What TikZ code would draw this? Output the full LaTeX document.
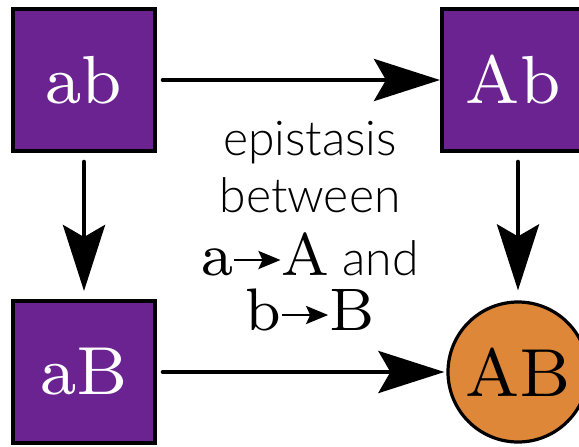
\documentclass[tikz,border=0pt]{standalone}
\usepackage{fontspec}
\newfontfamily\labelfont{Lato}[UprightFont=* Light]
\newfontfamily\genofont{lmroman8-regular.otf}
\usepackage{tikz}
\usetikzlibrary{arrows.meta}
\definecolor{genopurple}{RGB}{106,35,145}
\definecolor{genoorange}{RGB}{222,135,56}
\newcommand{\mutarrow}{\tikz[baseline=-7.5pt]\draw[line width=1.4pt,-{Stealth[length=11pt,width=9pt,inset=2pt]}] (0pt,0pt) -- (23pt,0pt);}

\begin{document}
\begin{tikzpicture}[
  x=0.5pt,y=-0.5pt,
  geno/.style={draw,line width=2pt,fill=genopurple,text=white,minimum size=71pt,inner sep=0pt,font=\genofont\fontsize{34}{40}\selectfont},
  fit/.style={draw,circle,line width=1.6pt,fill=genoorange,minimum size=70pt,inner sep=0pt,font=\genofont\fontsize{34}{40}\selectfont},
  txt/.style={anchor=base,inner sep=0pt,font=\labelfont\fontsize{24}{29}\selectfont},
  ar/.style={line width=2.3pt,line cap=round,-{Stealth[length=33pt,width=21pt,inset=6pt]}}
]
\useasboundingbox (0,0) rectangle (579,446);
\node[geno] (ab) at (84,80) {ab};
\node[geno] (Ab) at (513,80) {Ab};
\node[geno] (aB) at (84,372) {aB};
\node[fit] (AB) at (518,372) {AB};

\node[txt] (epi) at (310,155) {epistasis};
\node[txt] (btw) at (310,212) {between};
\node[txt] (lineA) at (310,275) {{\genofont\fontsize{30}{36}\selectfont a\mutarrow A} and};
\node[txt] (lineB) at (310,330) {\genofont\fontsize{30}{36}\selectfont b\mutarrow B};

\draw[ar,shorten <=3pt] (ab) -- (Ab);
\draw[ar,shorten <=4.5pt,shorten >=4pt] (ab) -- (aB);
\draw[ar,shorten <=4.5pt,shorten >=5pt] (Ab.south -| AB) -- (AB);
\draw[ar,shorten <=3pt,shorten >=1pt] (aB) -- (AB);
\end{tikzpicture}
\end{document}
